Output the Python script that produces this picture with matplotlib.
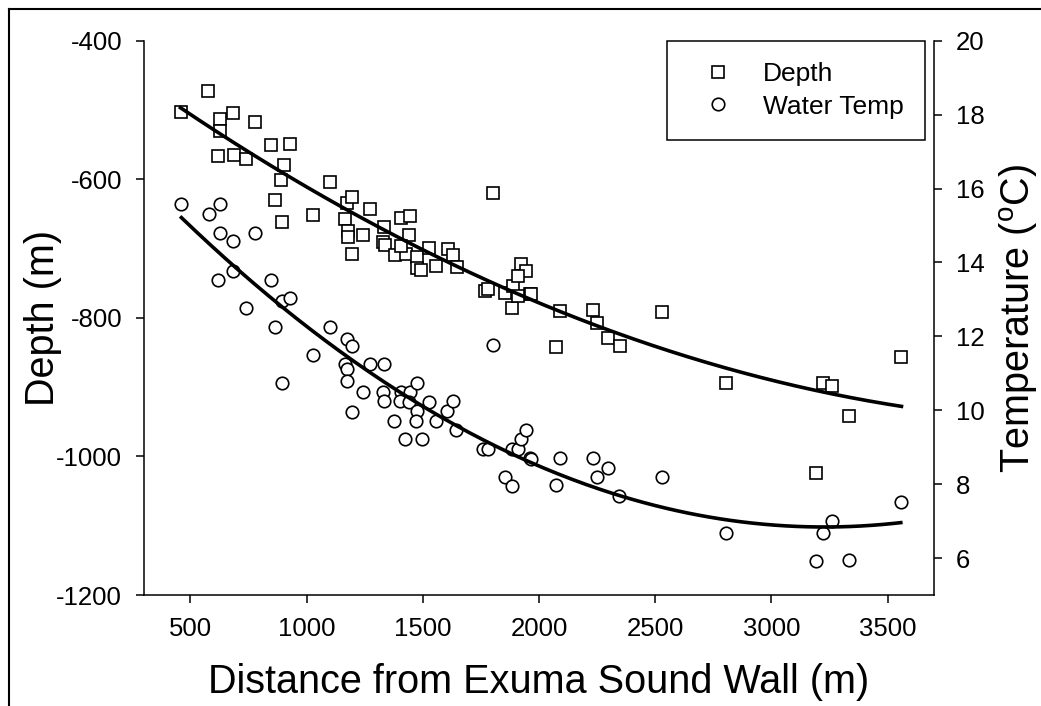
import numpy as np
import matplotlib
matplotlib.use("Agg")
import matplotlib.pyplot as plt
from matplotlib.lines import Line2D

plt.rcParams['font.family'] = ['Liberation Sans', 'DejaVu Sans']
plt.rcParams['mathtext.fontset'] = 'custom'
plt.rcParams['mathtext.rm'] = 'Liberation Sans'
plt.rcParams['axes.unicode_minus'] = False

# ---- data ----
dist_depth = [461, 577, 629, 685, 629, 779, 620, 686, 738, 845, 929, 904, 891, 862, 893,
              1028, 1102, 1174, 1195, 1166, 1176, 1176, 1195, 1244, 1273, 1334, 1404, 1443,
              1442, 1327, 1336, 1381, 1426, 1407, 1475, 1477, 1493, 1526, 1558, 1608, 1628,
              1647, 1800, 1768, 1782, 1854, 1887, 1883, 1921, 1943, 1911, 1962, 1911, 1965,
              2091, 2231, 2248, 2074, 2531, 2299, 2349, 2803, 3223, 3263, 3333, 3557, 3194]
depth = [-503, -472, -513, -504, -530, -517, -566, -565, -571, -550, -549, -580, -601, -630, -662,
         -651, -604, -634, -626, -657, -674, -683, -708, -681, -643, -669, -656, -653,
         -681, -691, -695, -709, -708, -696, -712, -728, -731, -699, -725, -701, -710,
         -726, -620, -761, -759, -764, -754, -786, -723, -732, -739, -765, -769, -765,
         -790, -789, -807, -842, -791, -829, -841, -894, -894, -898, -942, -857, -1024]

dist_temp = [461, 579, 629, 629, 684, 779, 620, 684, 846, 738, 894, 930, 862, 1102, 894,
             1028, 1174, 1195, 1166, 1174, 1174, 1195, 1243, 1273, 1334, 1327, 1334, 1378,
             1407, 1403, 1446, 1439, 1477, 1475, 1472, 1424, 1496, 1528, 1556, 1604, 1628,
             1642, 1761, 1782, 1800, 1854, 1883, 1883, 1911, 1921, 1943, 1962, 1965, 2091,
             2074, 2231, 2248, 2299, 2346, 2531, 2803, 3223, 3263, 3194, 3333, 3557]
temp = [15.57, 15.32, 15.57, 14.80, 14.58, 14.80, 13.53, 13.76, 13.53, 12.78, 12.95, 13.03, 12.26, 12.26, 10.73,
        11.50, 11.92, 11.74, 11.24, 11.11, 10.79, 9.96, 10.48, 11.24, 11.24, 10.49, 10.24, 9.71,
        10.48, 10.24, 10.48, 10.22, 10.73, 9.98, 9.71, 9.22, 9.22, 10.22, 9.71, 9.98, 10.24,
        9.46, 8.96, 8.96, 11.76, 8.20, 7.94, 8.96, 8.95, 9.22, 9.46, 8.70, 8.69, 8.70,
        7.98, 8.70, 8.20, 8.45, 7.68, 8.20, 6.68, 6.68, 7.01, 5.91, 5.95, 7.53]

x_ticks = [500, 1000, 1500, 2000, 2500, 3000, 3500]
depth_ticks = [-1200, -1000, -800, -600, -400]
temp_ticks = [6, 8, 10, 12, 14, 16, 18, 20]

# ---- figure ----
W, H = 1041, 706
fig = plt.figure(figsize=(W / 100, H / 100), dpi=100)
L, R, T, B = 144, 934, 40.7, 595
ax = fig.add_axes([L / W, 1 - B / H, (R - L) / W, (B - T) / H])
ax2 = ax.twinx()

ms = 9
mew = 1.2
ax.plot(dist_depth, depth, linestyle='none', marker='s', ms=ms, mfc='white', mec='black', mew=mew, zorder=3)
ax2.plot(dist_temp, temp, linestyle='none', marker='o', ms=ms, mfc='white', mec='black', mew=mew, zorder=3)

# quadratic regression curves
cd = np.polyfit(dist_depth, depth, 2)
xd = np.linspace(min(dist_depth) - 4, max(dist_depth) + 3, 200)
ax.plot(xd, np.polyval(cd, xd), color='black', lw=2.6, zorder=4)
ct = np.polyfit(dist_temp, temp, 2)
xt = np.linspace(min(dist_temp), max(dist_temp), 200)
ax2.plot(xt, np.polyval(ct, xt), color='black', lw=2.6, zorder=4)

ax.set_xlim(300, 3700)
ax.set_ylim(-1200, -400)
ax2.set_ylim(5, 20)
ax.set_xticks(x_ticks)
ax.set_yticks(depth_ticks)
ax2.set_yticks(temp_ticks)

for a in (ax, ax2):
    a.spines['top'].set_visible(False)
    for s in a.spines.values():
        s.set_linewidth(1.1)
    a.tick_params(direction='out', length=5.8, width=1.1, labelsize=18.5, pad=10)
ax.spines['right'].set_visible(False)
ax2.spines['left'].set_visible(False)
ax2.spines['bottom'].set_visible(False)

ax.set_xlabel('Distance from Exuma Sound Wall (m)', fontsize=28.5, labelpad=16)
ax.set_ylabel('Depth (m)', fontsize=28.5)
ax.yaxis.set_label_coords((62 - L) / (R - L), 0.5)
ax2.set_ylabel('Temperature ($^{\\mathrm{o}}$C)', fontsize=28.5, labelpad=9)

handles = [Line2D([], [], linestyle='none', marker='s', ms=ms, mfc='white', mec='black', mew=mew),
           Line2D([], [], linestyle='none', marker='o', ms=ms, mfc='white', mec='black', mew=mew)]
leg = ax2.legend(handles, ['Depth', 'Water Temp'], loc='upper right',
                 bbox_to_anchor=((925 - L) / (R - L), 1.0), borderaxespad=0,
                 fontsize=19, frameon=True, fancybox=False, edgecolor='black',
                 framealpha=1, borderpad=0.8, handlelength=2.29, handletextpad=0.56,
                 labelspacing=0.33)
leg.get_frame().set_linewidth(1.1)

# figure border (top and left)
fig.add_artist(Line2D([9 / W, 1.0], [1 - 9 / H, 1 - 9 / H], transform=fig.transFigure, color='black', lw=1.5))
fig.add_artist(Line2D([9 / W, 9 / W], [0.0, 1 - 9 / H], transform=fig.transFigure, color='black', lw=1.5))

fig.savefig('out.png', dpi=100)
